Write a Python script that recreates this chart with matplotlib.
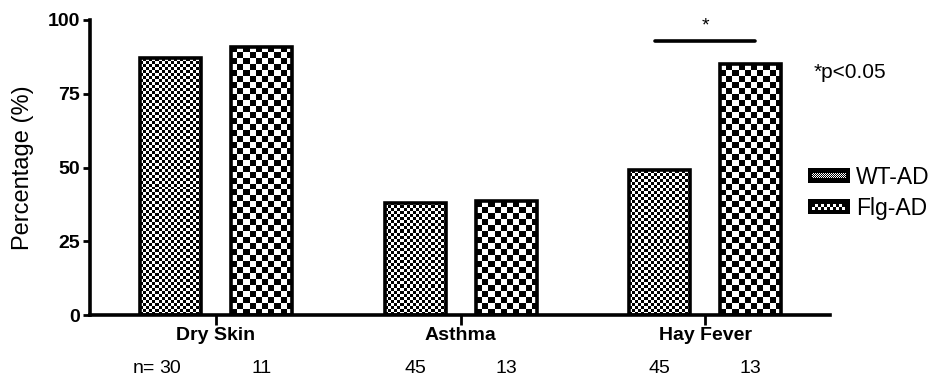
import numpy as np
import matplotlib
matplotlib.use("Agg")
import matplotlib.pyplot as plt

# ---- data ----
categories = ["Dry Skin", "Asthma", "Hay Fever"]
wt_ad = [87, 38, 49]      # % WT-AD
flg_ad = [91, 38.5, 85]   # % Flg-AD
n_wt = [30, 45, 45]
n_flg = [11, 13, 13]
y_ticks = [0, 25, 50, 75, 100]

plt.rcParams["font.family"] = ["Liberation Sans", "DejaVu Sans"]

FIG_W, FIG_H, DPI = 934, 383, 100
fig = plt.figure(figsize=(FIG_W / DPI, FIG_H / DPI), dpi=DPI)
ax = fig.add_axes([90 / FIG_W, 1 - 315 / FIG_H, 740 / FIG_W, 295 / FIG_H])

x = np.arange(len(categories))
width = 0.25
off = 0.186


def checker(nx, ny):
    ii, jj = np.meshgrid(np.arange(nx), np.arange(ny))
    return ((ii + jj) % 2).astype(float)


def fill_checker(rects, cell_px):
    # pixel scale of the data axes
    px_per_x = ax.bbox.width / (ax.get_xlim()[1] - ax.get_xlim()[0])
    px_per_y = ax.bbox.height / (ax.get_ylim()[1] - ax.get_ylim()[0])
    for r in rects:
        x0, w, h = r.get_x(), r.get_width(), r.get_height()
        nx = max(1, int(round(w * px_per_x / cell_px)))
        ny = max(1, int(round(h * px_per_y / cell_px)))
        im = ax.imshow(checker(nx, ny), extent=(x0, x0 + w, 0, h), cmap="gray",
                       vmin=0, vmax=1, interpolation="nearest", aspect="auto",
                       origin="lower", zorder=2)
        im.set_clip_path(r)


ax.set_xlim(-0.515, 2.51)
ax.set_ylim(0, 100)

b1 = ax.bar(x - off, wt_ad, width, facecolor="none", edgecolor="black",
            linewidth=2.6, zorder=3)
b2 = ax.bar(x + off, flg_ad, width, facecolor="none", edgecolor="black",
            linewidth=2.6, zorder=3)
fill_checker(b1, 3)
fill_checker(b2, 6)

# axes styling
for s in ["top", "right"]:
    ax.spines[s].set_visible(False)
for s in ["left", "bottom"]:
    ax.spines[s].set_linewidth(2.6)
ax.set_yticks(y_ticks)
ax.set_yticklabels([str(v) for v in y_ticks], fontweight="bold", fontsize=14)
ax.tick_params(axis="y", direction="out", length=5, width=2, pad=2)
ax.set_xticks(x)
ax.set_xticklabels(categories, fontweight="bold", fontsize=14)
ax.tick_params(axis="x", direction="out", length=7, width=2, pad=2)
ax.set_ylabel("Percentage (%)", fontsize=17, labelpad=10)

# group sizes below the categories
for i in range(len(categories)):
    ax.text(x[i] - off, -18, str(n_wt[i]), ha="center", va="center",
            fontsize=14, clip_on=False)
    ax.text(x[i] + off, -18, str(n_flg[i]), ha="center", va="center",
            fontsize=14, clip_on=False)
ax.text(x[0] - off - 0.065, -18, "n=", ha="right", va="center",
        fontsize=14, clip_on=False)

# significance bar for hay fever
ax.plot([x[2] - 0.205, x[2] + 0.205], [93, 93], color="black",
        linewidth=2.6, solid_capstyle="round", clip_on=False)
ax.text(x[2], 95, "*", ha="center", va="bottom", fontsize=14, clip_on=False)
fig.text(814 / FIG_W, 1 - 72 / FIG_H, "*p<0.05", fontsize=15, va="center")


# legend swatches
def swatch(y_top, cell):
    sw = fig.add_axes([808 / FIG_W, 1 - (y_top + 15) / FIG_H, 42 / FIG_W, 15 / FIG_H])
    arr = np.zeros((15, 42))
    pat = checker(34 // cell, 6 // cell if cell > 1 else 5)
    pat = np.kron(pat, np.ones((cell, cell)))
    arr[5:5 + pat.shape[0], 4:4 + pat.shape[1]] = pat
    sw.imshow(arr, cmap="gray", vmin=0, vmax=1, interpolation="nearest", aspect="auto")
    sw.axis("off")


swatch(168, 1)
swatch(199, 3)
fig.text(856 / FIG_W, 1 - 177 / FIG_H, "WT-AD", fontsize=16.5, va="center")
fig.text(856 / FIG_W, 1 - 208 / FIG_H, "Flg-AD", fontsize=16.5, va="center")

fig.savefig("out.png", dpi=DPI)
